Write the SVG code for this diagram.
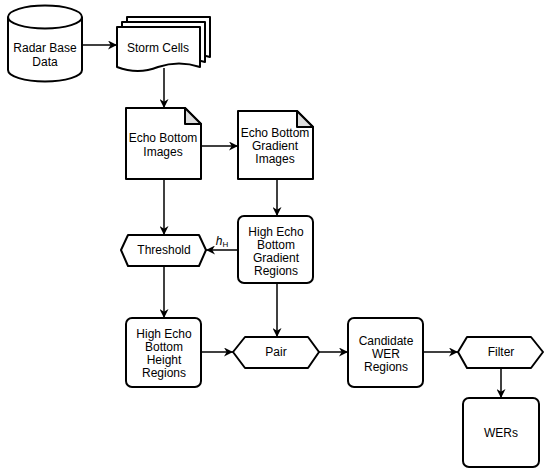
<svg xmlns="http://www.w3.org/2000/svg" width="550" height="474" viewBox="0 0 550 474">
<defs>
<marker id="arr" viewBox="0 0 10 10" refX="10" refY="5" markerWidth="9" markerHeight="9" markerUnits="userSpaceOnUse" orient="auto">
<path d="M0,0 L10,5 L0,10 L3,5 Z" fill="#000"/>
</marker>
</defs>
<style>
.s{fill:#fff;stroke:#000;stroke-width:2;stroke-linejoin:round}
.f{fill:#ddd;stroke:#000;stroke-width:2;stroke-linejoin:round}
.t{font-family:"Liberation Sans",Arial,sans-serif;font-size:12px;fill:#000;text-anchor:middle}
.c{fill:none;stroke:#000;stroke-width:1.5;marker-end:url(#arr)}
</style>
<rect width="550" height="474" fill="#fff"/>
<g id="radar">
<path class="s" d="M8,17 A37,11.5 0 0 1 82,17 V70 A37,11.5 0 0 1 8,70 Z"/>
<path class="s" fill="none" d="M8,17 A37,11.5 0 0 0 82,17"/>
<text class="t" x="45" y="52">Radar Base</text>
<text class="t" x="45" y="66">Data</text>
</g>
<g id="storm">
<path class="s" d="M127,17 H210 V57 Q189,50 168,57 Q148,65 127,57 Z"/>
<path class="s" d="M122,22 H205 V62 Q184,55 163,62 Q143,70 122,62 Z"/>
<path class="s" d="M117,27 H200 V67 Q179,60 158,67 Q138,75 117,67 Z"/>
<text class="t" x="158" y="52">Storm Cells</text>
</g>
<g id="ebi">
<path class="s" d="M126,108 H185 L201,124 V179 H126 Z"/>
<path class="f" d="M185,108 V124 H201 Z"/>
<text class="t" x="163" y="142">Echo Bottom</text>
<text class="t" x="163" y="156">Images</text>
</g>
<g id="ebgi">
<path class="s" d="M238,111 H297 L313,127 V179 H238 Z"/>
<path class="f" d="M297,111 V127 H313 Z"/>
<text class="t" x="275" y="137">Echo Bottom</text>
<text class="t" x="275" y="150">Gradient</text>
<text class="t" x="275" y="163">Images</text>
</g>
<g id="threshold">
<path class="s" d="M121,250 L128,235 H199 L206,250 L199,266 H128 Z"/>
<text class="t" x="164" y="254">Threshold</text>
</g>
<g id="hebgr">
<rect class="s" x="238" y="216" width="75" height="67" rx="6"/>
<text class="t" x="276" y="236">High Echo</text>
<text class="t" x="276" y="249">Bottom</text>
<text class="t" x="276" y="262">Gradient</text>
<text class="t" x="276" y="275">Regions</text>
</g>
<g id="hebhr">
<rect class="s" x="126" y="318" width="75" height="69" rx="6"/>
<text class="t" x="164" y="338">High Echo</text>
<text class="t" x="164" y="351">Bottom</text>
<text class="t" x="164" y="364">Height</text>
<text class="t" x="164" y="377">Regions</text>
</g>
<g id="pair">
<path class="s" d="M233,352 L245,337 H308 L319,352 L308,368 H245 Z"/>
<text class="t" x="276" y="356">Pair</text>
</g>
<g id="cand">
<rect class="s" x="348" y="318" width="75" height="69" rx="6"/>
<text class="t" x="386" y="345">Candidate</text>
<text class="t" x="386" y="358">WER</text>
<text class="t" x="386" y="371">Regions</text>
</g>
<g id="filter">
<path class="s" d="M458,352 L467,337 H531 L543,352 L531,368 H467 Z"/>
<text class="t" x="501" y="356">Filter</text>
</g>
<g id="wers">
<rect class="s" x="463" y="398" width="76" height="69" rx="6"/>
<text class="t" x="501" y="437">WERs</text>
</g>
<g id="connectors">
<path class="c" d="M82,45 H117"/>
<path class="c" d="M164,68 V108"/>
<path class="c" d="M201,146 H238"/>
<path class="c" d="M164,179 V235"/>
<path class="c" d="M277,179 V216"/>
<path class="c" d="M238,250 H206"/>
<path class="c" d="M164,266 V318"/>
<path class="c" d="M277,283 V337"/>
<path class="c" d="M201,352 H233"/>
<path class="c" d="M319,352 H348"/>
<path class="c" d="M423,352 H458"/>
<path class="c" d="M501,368 V398"/>
<text x="222" y="245" style="font-family:'Liberation Sans',Arial,sans-serif;font-size:12px;font-style:italic;text-anchor:middle">h<tspan font-size="8" font-style="normal" dy="2">H</tspan></text>
</g>
</svg>
